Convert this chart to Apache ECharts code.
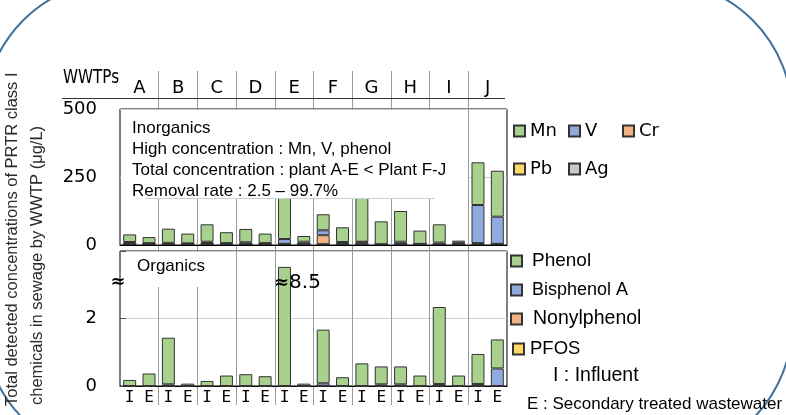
<!DOCTYPE html>
<html><head><meta charset="utf-8">
<script src="https://cdn.jsdelivr.net/npm/echarts@6/dist/echarts.min.js"></script>
<style>html,body{margin:0;padding:0;background:#fff}#c{width:786px;height:415px}</style>
</head><body><div id="c"></div>
<script>
// ---- data ----
const plants = ['A','B','C','D','E','F','G','H','I','J'];
const samples = ['I','E','I','E','I','E','I','E','I','E','I','E','I','E','I','E','I','E','I','E'];
const inorgTicks = [0, 250, 500];
const orgTicks = [0, 2];
// Inorganics (µg/L), order A-I, A-E, B-I, ... J-E
const mn = [28,22,52,36,64,40,49,35,281,21,59,54,230,84,113,49,67,8,157,169];
const vv = [7,3,4,2,5,2,6,3,18,8,18,4,2,0,8,0,6,5,140,100];
const cr = [0,0,0,0,3,0,0,0,0,0,33,3,7,0,0,0,0,0,4,0];
const pb = [0,0,0,0,0,0,0,0,0,0,0,0,0,0,0,0,0,0,0,0];
const ag = [4,4,4,4,4,5,4,4,4,4,3,4,3,3,4,4,3,3,3,4];
// Organics (µg/L)
const phenol = [0.18,0.37,1.38,0.07,0.15,0.31,0.35,0.29,8.5,0.07,1.59,0.26,0.67,0.53,0.53,0.31,2.28,0.31,0.89,0.86];
const bisphenolA = [0,0,0.05,0,0,0,0,0,0,0,0.08,0,0,0.05,0.05,0,0.06,0,0.06,0.52];
const nonylphenol = [0,0,0,0,0,0,0,0,0,0,0,0,0,0,0,0,0,0,0,0];
const pfos = [0,0,0,0,0,0,0,0,0,0,0,0,0,0,0,0,0,0,0,0];
const orgBreakAt = 3.53; // axis break: taller bars are drawn cut at this value
const inorgNote = ['Inorganics','High concentration : Mn, V, phenol','Total concentration : plant A-E < Plant F-J','Removal rate : 2.5 \u2013 99.7%'];

// ---- chart ----
const C = {green:'#A9D18E', blue:'#8FAADC', orange:'#F4B183', yellow:'#FFD966', gray:'#C9C9C9'};
const border = {borderColor:'#333', borderWidth:1};
const chart = echarts.init(document.getElementById('c'), null, {renderer:'canvas'});
const DJ = 'DejaVu Sans', LS = 'Liberation Sans';

function barSeries(name, data, color, xi, yi, stack, extra){
  return Object.assign({type:'bar', name, data, stack, xAxisIndex:xi, yAxisIndex:yi,
    barCategoryGap:'33%', itemStyle:Object.assign({color}, border), emphasis:{disabled:true}}, extra||{});
}
const phenolDrawn = phenol.map(v => v > orgBreakAt ? {value: orgBreakAt, real: v,
  label:{show:true, position:[-4,16], align:'left', verticalAlign:'middle',
    formatter: () => '{a|\u2248}{b|' + v + '}',
    rich:{a:{fontFamily:DJ, fontSize:18, fontWeight:'bold', color:'#000'}, b:{fontFamily:DJ, fontSize:20, color:'#000'}}}} : v);

function legend(name, left, top, font, size, pad){
  return {data:[name], left, top, padding:0, itemWidth:11, itemHeight:11, icon:'rect', selectedMode:false,
    textStyle:{fontFamily:font, fontSize:size, color:'#000', lineHeight:20, padding:pad||[0,0,0,0]}};
}

const option = {
  animation:false,
  grid:[
    {left:120, top:109, width:387, height:136, show:true, borderColor:'#000', borderWidth:1, backgroundColor:'transparent'},
    {left:120, top:251, width:387, height:135, show:true, borderColor:'#000', borderWidth:1, backgroundColor:'transparent'},
    {left:120, top:71, width:387, height:334}
  ],
  xAxis:[
    {type:'category', gridIndex:0, data:samples, axisLine:{lineStyle:{color:'#000'}}, axisTick:{show:false}, axisLabel:{show:false}},
    {type:'category', gridIndex:0, data:plants, position:'top', offset:11, axisLine:{show:false}, axisTick:{show:false},
      axisLabel:{fontFamily:DJ, fontSize:18, color:'#000', margin:1}},
    {type:'category', gridIndex:1, data:samples, axisLine:{lineStyle:{color:'#000'}}, axisTick:{show:false},
      axisLabel:{fontFamily:'DejaVu Sans Mono', fontSize:16, color:'#000', margin:4, interval:0}},
    {type:'category', gridIndex:2, data:plants, axisLine:{show:false}, axisTick:{show:false}, axisLabel:{show:false},
      splitLine:{show:true, showMinLine:false, showMaxLine:false, lineStyle:{color:'#9a9a9a', width:1}}}
  ],
  yAxis:[
    {type:'value', gridIndex:0, min:inorgTicks[0], max:inorgTicks[2], interval:inorgTicks[1]-inorgTicks[0],
      axisLine:{show:false}, axisTick:{show:false}, splitLine:{lineStyle:{color:'#d0d0d0'}},
      axisLabel:{fontFamily:DJ, fontSize:18, color:'#000', margin:23}},
    {type:'value', gridIndex:1, min:0, max:4, interval:orgTicks[1]-orgTicks[0],
      axisLine:{show:false}, axisTick:{show:true, inside:true, length:6, lineStyle:{color:'#555'}},
      splitLine:{lineStyle:{color:'#d0d0d0'}},
      axisLabel:{fontFamily:DJ, fontSize:18, color:'#000', margin:23, formatter:v => orgTicks.includes(v) ? String(v) : ''}},
    {type:'value', gridIndex:2, show:false}
  ],
  legend:[
    legend('Mn', 513, 121, DJ, 18), legend('V', 568, 121, DJ, 18), legend('Cr', 622, 121, DJ, 18),
    legend('Pb', 513, 159, DJ, 18), legend('Ag', 568, 159, DJ, 18),
    legend('Phenol', 510, 245, LS, 19, [0,0,12,5]),
    legend('Bisphenol A', 510, 275, LS, 18, [0,0,10,5]),
    legend('Nonylphenol', 510, 309, LS, 19.5, [0,0,0,6]),
    legend('PFOS', 512, 339, LS, 18.5, [0,0,0,1])
  ],
  series:[
    barSeries('Ag', ag, C.gray, 0, 0, 'inorg'),
    barSeries('Pb', pb, C.yellow, 0, 0, 'inorg'),
    barSeries('Cr', cr, C.orange, 0, 0, 'inorg'),
    barSeries('V', vv, C.blue, 0, 0, 'inorg'),
    barSeries('Mn', mn, C.green, 0, 0, 'inorg'),
    barSeries('PFOS', pfos, C.yellow, 2, 1, 'org'),
    barSeries('Nonylphenol', nonylphenol, C.orange, 2, 1, 'org'),
    barSeries('Bisphenol A', bisphenolA, C.blue, 2, 1, 'org'),
    barSeries('Phenol', phenolDrawn, C.green, 2, 1, 'org'),
    {type:'bar', xAxisIndex:3, yAxisIndex:2, data:[], silent:true}
  ],
  graphic:[
    {type:'rect', z:1, silent:true, shape:{x:-16, y:-19, width:808, height:477, r:134},
      style:{fill:'none', stroke:'#41719C', lineWidth:2}},
    // white note boxes (cover plot behind them)
    {type:'rect', z:50, silent:true, shape:{x:121, y:110, width:347, height:88}, style:{fill:'#fff'}},
    {type:'line', z:51, silent:true, shape:{x1:145, y1:198.5, x2:435, y2:198.5}, style:{stroke:'#c9d1de', lineWidth:1}},
    {type:'text', z:52, silent:true, x:132, y:118, style:{text:inorgNote.join('\n'), fontFamily:LS, fontSize:17, lineHeight:21, fill:'#000', verticalAlign:'top'}},
    {type:'rect', z:50, silent:true, shape:{x:121, y:252, width:108, height:35}, style:{fill:'#fff'}},
    {type:'text', z:52, silent:true, x:137, y:266, style:{text:'Organics', fontFamily:LS, fontSize:17, fill:'#000', verticalAlign:'middle'}},
    {type:'text', z:52, silent:true, x:118, y:282, style:{text:'\u2248', fontFamily:DJ, fontSize:18, fontWeight:'bold', fill:'#000', align:'center', verticalAlign:'middle'}},
    // header
    {type:'line', z:5, silent:true, shape:{x1:62, y1:98.5, x2:505, y2:98.5}, style:{stroke:'#333', lineWidth:1}},
    {type:'text', z:5, silent:true, x:63, y:78, scaleX:0.8, style:{text:'WWTPs', fontFamily:DJ, fontSize:19, fill:'#000', verticalAlign:'middle'}},
    // y title
    {type:'text', z:5, silent:true, x:12, y:406, rotation:Math.PI/2, style:{text:'Total detected concentrations of PRTR class I', fontFamily:LS, fontSize:16.5, fill:'#2b2b2b', align:'left', verticalAlign:'middle'}},
    {type:'text', z:5, silent:true, x:37, y:405, rotation:Math.PI/2, style:{text:'chemicals in sewage by WWTP (\u03bcg/L)', fontFamily:LS, fontSize:16.5, fill:'#2b2b2b', align:'left', verticalAlign:'middle'}},
    // I/E key
    {type:'text', z:5, silent:true, x:553, y:376, style:{text:'I : Influent', fontFamily:LS, fontSize:19.5, fill:'#000', verticalAlign:'middle'}},
    {type:'text', z:5, silent:true, x:527, y:404, style:{text:'E : Secondary treated wastewater', fontFamily:LS, fontSize:17, fill:'#000', verticalAlign:'middle'}}
  ]
};
chart.setOption(option);
</script></body></html>
